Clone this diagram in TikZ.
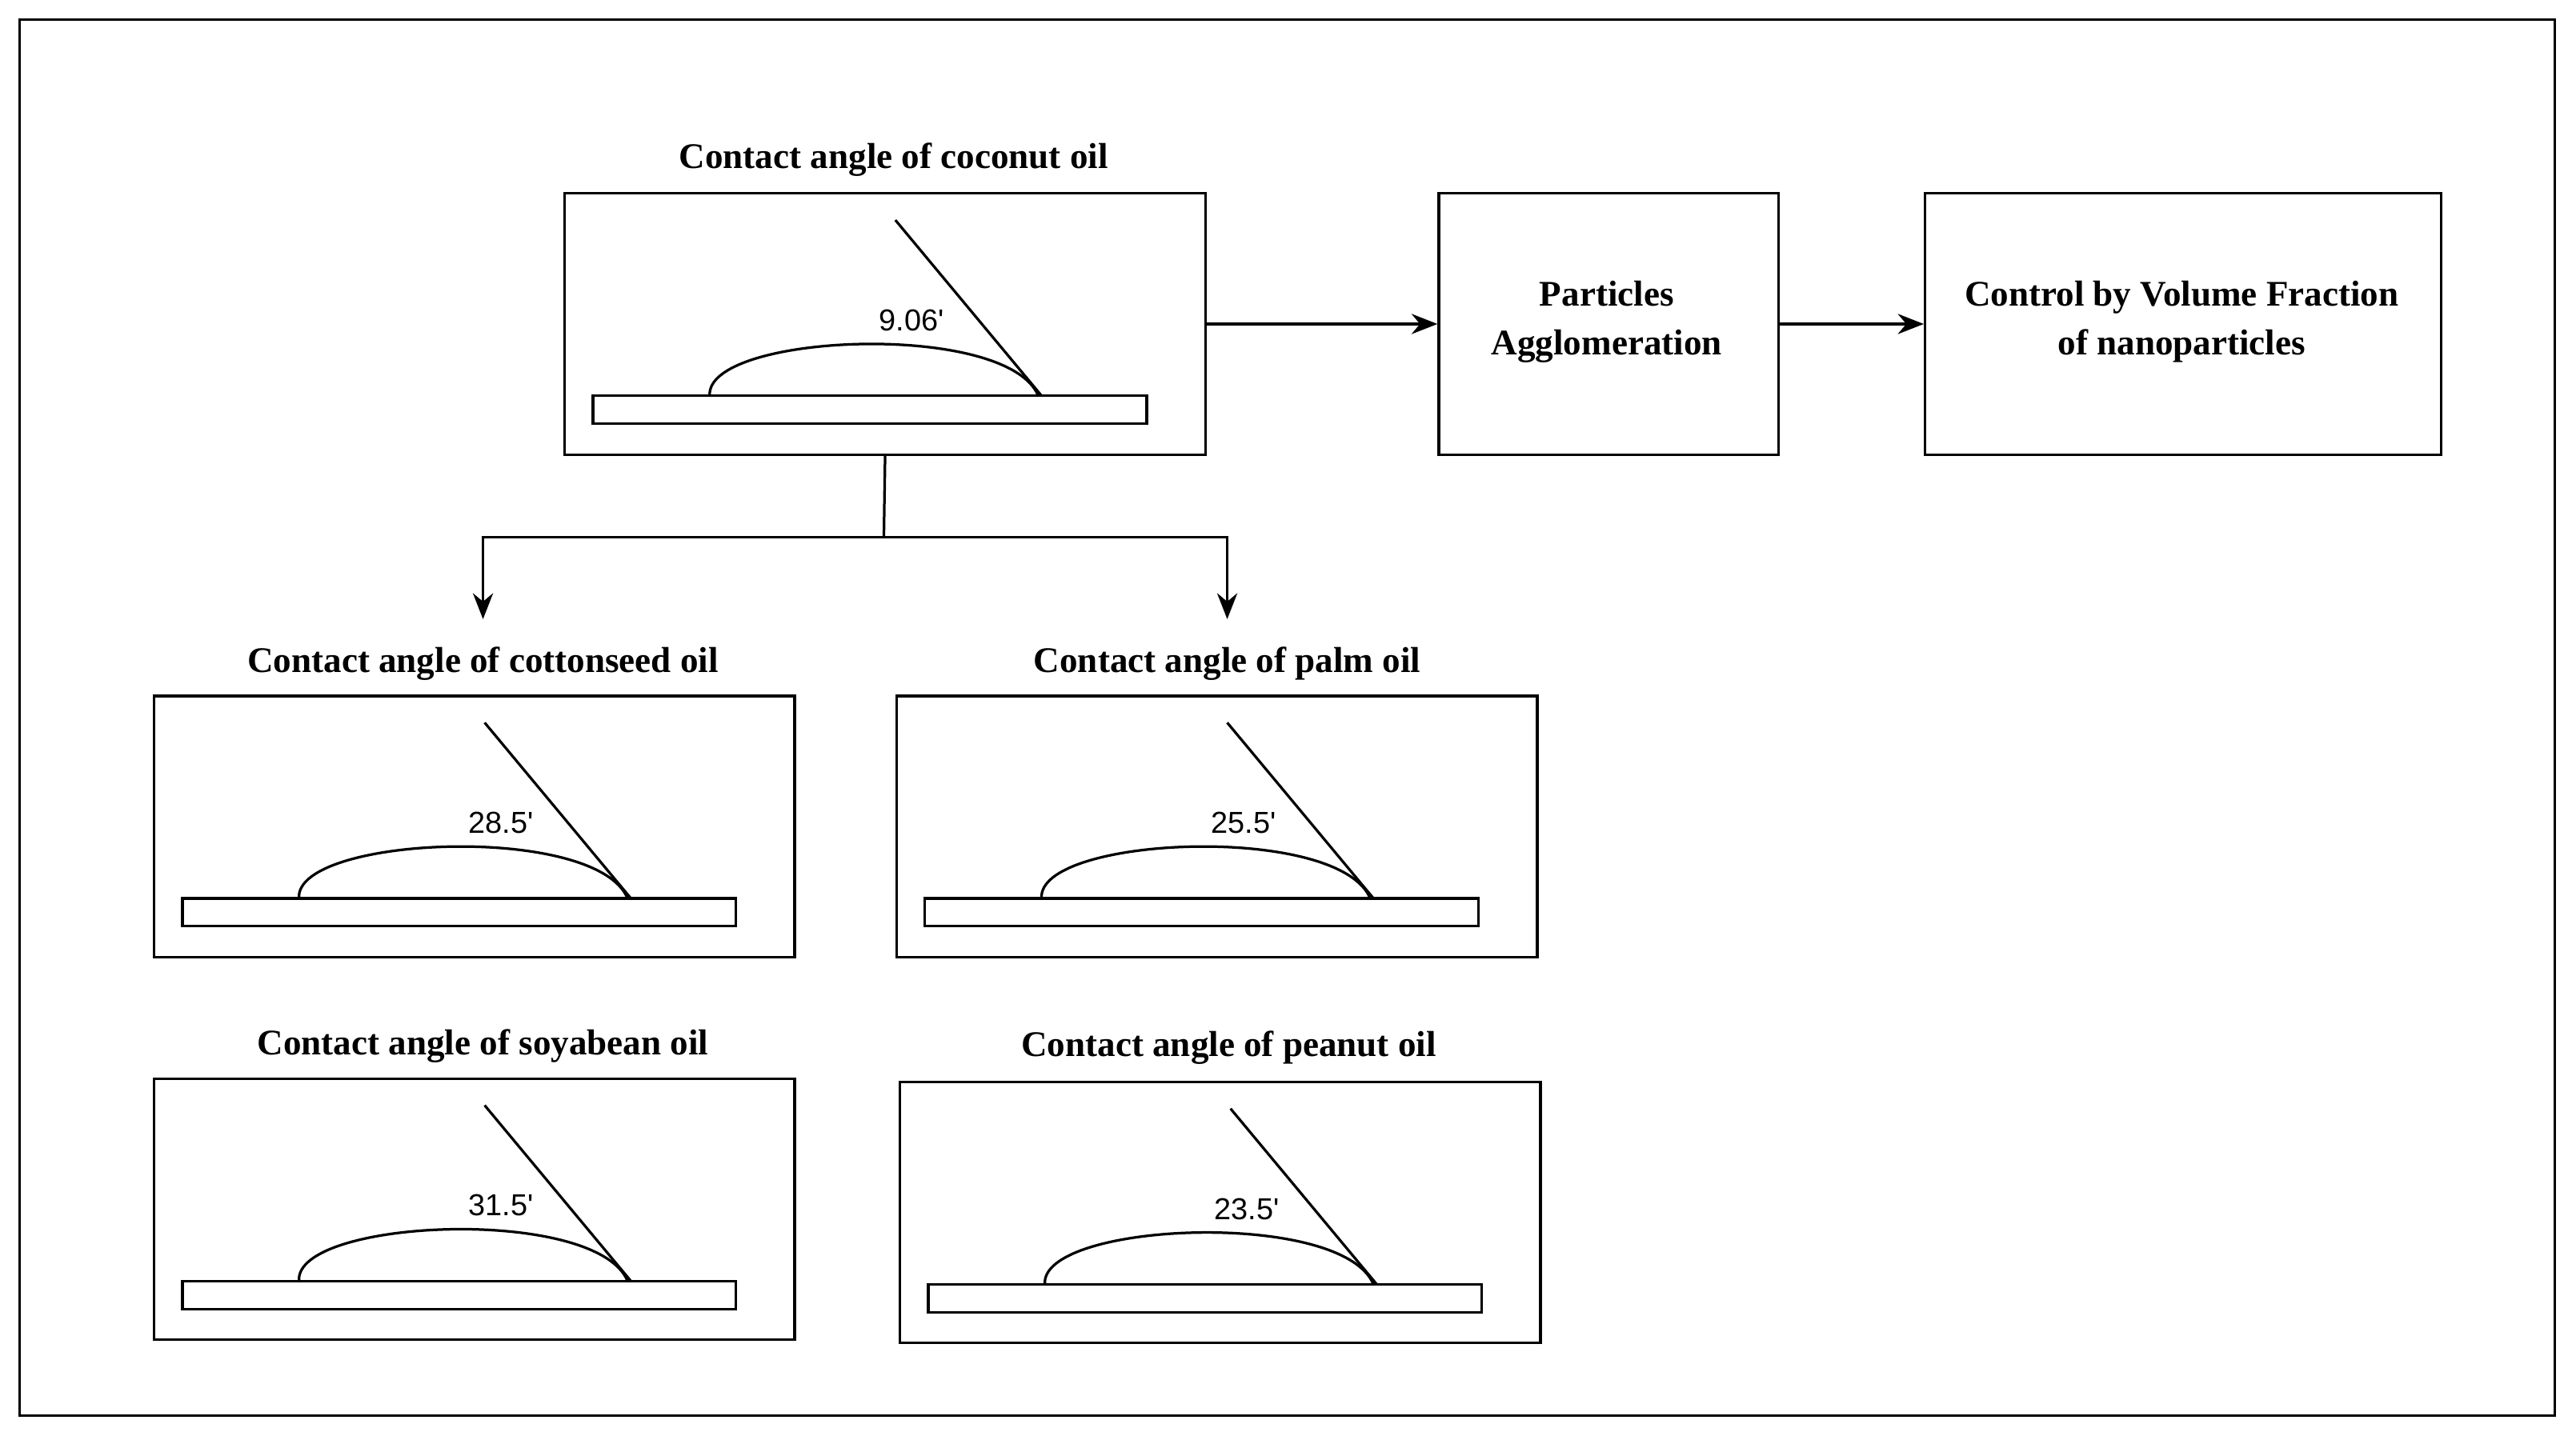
\documentclass[tikz,border=0pt]{standalone}
\usepackage{fontspec}
\setmainfont{Liberation Serif}
\newfontfamily\labelfont{Liberation Sans}
\usetikzlibrary{arrows.meta,calc}
\tikzset{
  box/.style={draw, line width=0.9pt, anchor=north west, minimum height=3.18cm, inner sep=0pt},
  ttl/.style={font=\fontsize{12.5}{15}\selectfont\bfseries},
  txt/.style={font=\fontsize{12.5}{17}\selectfont\bfseries, align=center},
  lbl/.style={font=\labelfont\fontsize{10.5}{12}\selectfont},
  arrow/.style={line width=0.9pt, -{Stealth[length=9pt,width=7pt]}},
  thin/.style={line width=0.9pt}
}
% #1 name, #2 x, #3 y (top-left of box), #4 label
\newcommand{\oilpanel}[4]{%
  \node (#1) [box, minimum width=7.8cm] at (#2,#3) {};
  \draw[thin] (#2+18,#3+124) rectangle (#2+355,#3+141);
  \draw[thin] (#2+89,#3+124) .. controls (#2+86,#3+86) and (#2+270,#3+78) .. (#2+289,#3+124);
  \draw[thin] (#2+202,#3+17) -- (#2+291,#3+124);
  \node[lbl] (#1lbl) at (#2+212,#3+78) {#4};
}
\begin{document}
\begin{tikzpicture}[x=0.02cm, y=-0.02cm]
\useasboundingbox (0,0) rectangle (1568,874);
\draw[thin] (12,12) rectangle (1555,862);

\oilpanel{coco}{343}{117}{9.06'}
\node[ttl] (cocot) at (544,97) {Contact angle of coconut oil};

\node (part) [box, minimum width=4.14cm] at (875,117) {};
\node[txt] (partt) at (978,196) {Particles\\Agglomeration};
\node (ctrl) [box, minimum width=6.28cm] at (1171,117) {};
\node[txt] (ctrlt) at (1328,196) {Control by Volume Fraction\\of nanoparticles};

\draw[arrow] (coco.east) -- (part.west);
\draw[arrow] (part.east) -- (ctrl.west);

\oilpanel{cot}{93}{423}{28.5'}
\node[ttl] (cott) at (294,404) {Contact angle of cottonseed oil};
\oilpanel{palm}{545}{423}{25.5'}
\node[ttl] (palmt) at (747,404) {Contact angle of palm oil};
\oilpanel{soy}{93}{656}{31.5'}
\node[ttl] (soyt) at (294,637) {Contact angle of soyabean oil};
\oilpanel{pea}{547}{658}{23.5'}
\node[ttl] (peat) at (748,638) {Contact angle of peanut oil};

\coordinate (split) at (538,327);
\coordinate (endl) at (294,377);
\coordinate (endr) at (747,377);
\draw[thin] (coco.south) -- (split);
\draw[arrow] (split) -| (endl);
\draw[arrow] (split) -| (endr);
\end{tikzpicture}
\end{document}
